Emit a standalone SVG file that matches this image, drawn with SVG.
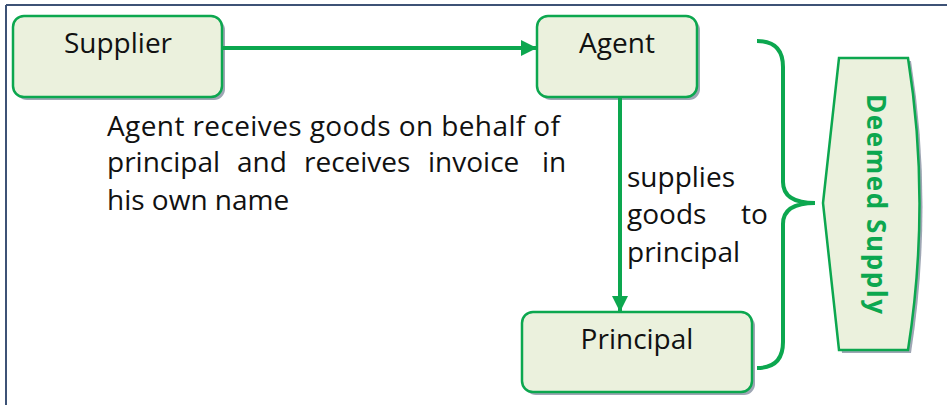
<svg xmlns="http://www.w3.org/2000/svg" width="947" height="405" viewBox="0 0 947 405">
<defs>
<style>
.box{fill:#ebf1dd;stroke:#0ca74f;stroke-width:2.5}
.shadow{fill:#9ea6b4}
.lbl{font-family:"Open Sans","Noto Sans",sans-serif;font-size:28px;fill:#111}
.body{font-family:"Open Sans","Noto Sans",sans-serif;font-size:28px;fill:#111}
.conn{stroke:#0ca74f;stroke-width:4;fill:none}
</style>
<marker id="ah" markerWidth="4" markerHeight="4" refX="4" refY="2" orient="auto" markerUnits="strokeWidth">
<path d="M0,0 L4,2 L0,4 Z" fill="#0ca74f"/>
</marker>
</defs>
<rect width="947" height="405" fill="#ffffff"/>
<g id="frame">
<line x1="6" y1="5" x2="947" y2="5" stroke="#3d5276" stroke-width="2"/>
<line x1="6" y1="5" x2="6" y2="405" stroke="#3d5276" stroke-width="2"/>
</g>
<g id="supplier">
<rect class="shadow" x="16" y="19" width="209" height="81" rx="11"/>
<rect class="box" x="13" y="16" width="209" height="81" rx="11"/>
<text class="lbl" x="118" y="53" text-anchor="middle">Supplier</text>
</g>
<g id="agent">
<rect class="shadow" x="540" y="19" width="160" height="81" rx="11"/>
<rect class="box" x="537" y="16" width="160" height="81" rx="11"/>
<text class="lbl" x="617" y="53" text-anchor="middle">Agent</text>
</g>
<g id="principal">
<rect class="shadow" x="525" y="315" width="230" height="80" rx="11"/>
<rect class="box" x="522" y="312" width="230" height="80" rx="11"/>
<text class="lbl" x="637" y="349" text-anchor="middle">Principal</text>
</g>
<g id="deemed">
<path class="shadow" d="M842,61 L911,61 Q934,206 911,353 L842,353 L826,206 Z"/>
<path class="box" d="M839,58 L908,58 Q931,203 908,350 L839,350 L823,203 Z"/>
<text transform="translate(867,204) rotate(90)" text-anchor="middle" textLength="220" style="font-family:'Open Sans','Noto Sans',sans-serif;font-size:26px;font-weight:bold;fill:#0ca74f">Deemed Supply</text>
</g>
<g id="connectors">
<line class="conn" x1="222" y1="48" x2="537" y2="48" marker-end="url(#ah)"/>
<line class="conn" x1="620" y1="97" x2="620" y2="312" marker-end="url(#ah)"/>
<path class="conn" d="M757,41 Q783,41 783,67 L783,182 Q783,203 815,203 Q783,203 783,224 L783,342 Q783,368 757,368"/>
</g>
<g id="notes">
<text class="body" x="107" y="136" textLength="453" lengthAdjust="spacing">Agent receives goods on behalf of</text>
<text class="body" y="172"><tspan x="107">principal</tspan><tspan x="237">and</tspan><tspan x="304">receives</tspan><tspan x="428">invoice</tspan><tspan x="542">in</tspan></text>
<text class="body" x="107" y="210">his own name</text>
<text class="body" x="627" y="187">supplies</text>
<text class="body" y="224"><tspan x="627">goods</tspan><tspan x="741">to</tspan></text>
<text class="body" x="627" y="262">principal</text>
</g>
</svg>
